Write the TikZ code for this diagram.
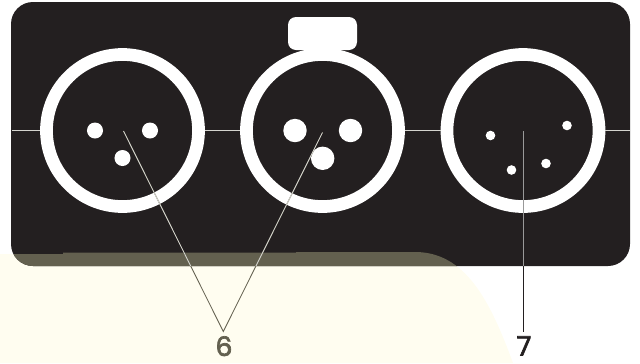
\documentclass[tikz,border=0pt]{standalone}
\usepackage{fontspec}
\setmainfont[FakeBold=2.6]{Poppins}
\usetikzlibrary{calc}
\definecolor{panelblack}{HTML}{231F20}
\definecolor{creamy}{HTML}{FFFDF0}
\definecolor{shadeband}{HTML}{63604F}
\definecolor{wirelight}{HTML}{D4D4CE}
\tikzset{
    ring/.style={circle, draw=white, line width=0.3175cm, minimum size=3.8cm, inner sep=0pt},
    pin/.style={circle, fill=white, inner sep=0pt, minimum size=#1*0.05cm},
    callout/.style={font=\fontsize{19}{19}\selectfont, inner sep=0pt, anchor=north}
}
\newcommand{\creamedge}{(0,254) -- (63,254) -- (63,252.7) -- (296,252.7) -- (296,252) -- (415,252) .. controls (465,252) and (490,300) .. (513,363) -- (0,363) -- cycle}
\begin{document}
\begin{tikzpicture}[x=0.025cm, y=-0.025cm]
    \useasboundingbox (0,0) rectangle (640,363);
    \fill[creamy] \creamedge;
    \fill[panelblack, rounded corners=0.55cm] (11,2) rectangle (630,266);
    \begin{scope}
        \clip[rounded corners=0.55cm] (11,2) rectangle (630,266);
        \fill[shadeband] \creamedge;
    \end{scope}

    \fill[white, rounded corners=0.2cm] (288,17) rectangle (357,50);
    \node[ring] (xlrleft) at (122.5,130.5) {};
    \node[ring] (xlrmid) at (322.5,130.5) {};
    \node[ring] (xlrright) at (523,130.5) {};

    \node[pin=8] (leftpina) at (95,130.5) {};
    \node[pin=8] (leftpinb) at (150,130.5) {};
    \node[pin=8] (leftpinc) at (122.5,158) {};
    \node[pin=11.7] (midpina) at (295,130.5) {};
    \node[pin=11.7] (midpinb) at (350.5,130.5) {};
    \node[pin=11.7] (midpinc) at (322.7,158.3) {};
    \node[pin=4.8] (rightpina) at (490.5,135.5) {};
    \node[pin=4.8] (rightpinb) at (567,125.5) {};
    \node[pin=4.8] (rightpinc) at (546,163.5) {};
    \node[pin=4.8] (rightpind) at (511.5,170) {};

    \coordinate (edgeleft) at (12,130.5);
    \coordinate (edgeright) at (630,130.5);
    \draw[wirelight, line width=0.5pt] (edgeleft) -- (xlrleft);
    \draw[wirelight, line width=0.5pt] (xlrleft) -- (xlrmid);
    \draw[wirelight, line width=0.5pt] (xlrmid) -- (xlrright);
    \draw[wirelight, line width=0.5pt] (xlrright) -- (edgeright);

    \node[callout, text=shadeband] (six) at (224,336) {6};
    \node[callout, text=panelblack] (seven) at (524,336) {7};
    \coordinate (sixtip) at (223.3,331.5);
    \coordinate (seventip) at (523.5,331.5);
    \coordinate (leftstart) at (123.5,131);
    \coordinate (midstart) at (322.5,132.5);
    \coordinate (rightstart) at (523.5,131);
    \coordinate (rightexit) at (523.5,266);

    \draw[shadeband, line width=0.6pt] (leftstart) -- (sixtip) -- (midstart);
    \begin{scope}
        \clip[rounded corners=0.55cm] (11,2) rectangle (630,266);
        \draw[wirelight, line width=0.6pt] (leftstart) -- (sixtip) -- (midstart);
    \end{scope}
    \draw[gray!80, line width=0.7pt] (rightstart) -- (rightexit);
    \draw[panelblack, line width=0.7pt] (rightexit) -- (seventip);
\end{tikzpicture}
\end{document}
